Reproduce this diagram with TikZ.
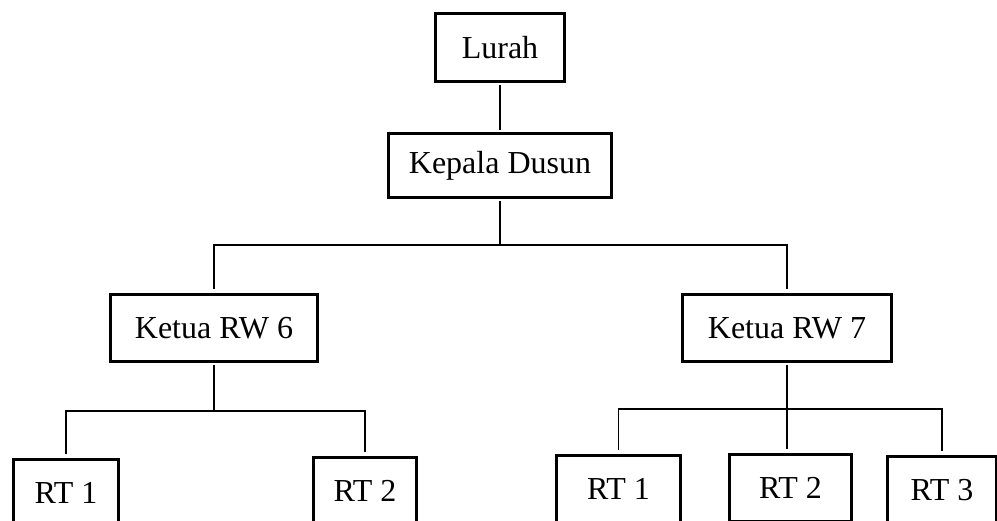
\documentclass[tikz,border=0pt]{standalone}
\usepackage{fontspec}
\setmainfont{Liberation Serif}
\begin{document}
\begin{tikzpicture}[x=1pt,y=-1pt,
  box/.style={draw,line width=3.6pt,inner sep=0pt,font=\fontsize{32}{38}\selectfont},
  conn/.style={line width=1.6pt}]
\useasboundingbox (0,0) rectangle (997,521);
\clip (0,0) rectangle (997,521);
\node[box,minimum width=129pt,minimum height=68pt] (lurah) at (500,47.5) {Lurah};
\node[box,minimum width=223pt,minimum height=64pt] (kepala) at (500,165.5) {Kepala Dusun};
\node[box,minimum width=207pt,minimum height=67pt] (rw6) at (214,328) {Ketua RW 6};
\node[box,minimum width=209pt,minimum height=67pt] (rw7) at (787,328) {Ketua RW 7};
\node[box,minimum width=105pt,minimum height=67pt] (rt1a) at (66,493) {RT 1};
\node[box,minimum width=103pt,minimum height=67pt] (rt2a) at (365,491) {RT 2};
\node[box,minimum width=124pt,minimum height=67pt] (rt1b) at (618.5,489) {RT 1};
\node[box,minimum width=122pt,minimum height=67pt] (rt2b) at (790.5,488) {RT 2};
\node[box,minimum width=109pt,minimum height=67pt] (rt3b) at (942,490) {RT 3};
\coordinate (bus1) at (0,245);
\coordinate (bus2) at (0,411);
\coordinate (bus3) at (0,409);
\draw[conn,shorten <=2pt,shorten >=2pt] (lurah.south) -- (kepala.north);
\draw[conn,shorten <=2pt,shorten >=4pt] (kepala.south) -- (kepala.south|-bus1) -| (rw6.north);
\draw[conn,shorten >=4pt] (kepala.south|-bus1) -| (rw7.north);
\draw[conn,shorten <=2pt,shorten >=4pt] (rw6.south) -- (rw6.south|-bus2) -| (rt1a.north);
\draw[conn,shorten >=4pt] (rw6.south|-bus2) -| (rt2a.north);
\draw[conn,shorten <=2pt,shorten >=4pt] (rw7.south) -- (rw7.south|-bus3) -| (rt1b.north);
\draw[conn,shorten <=2pt,shorten >=4pt] (rw7.south) -- (rw7.south|-rt2b.north);
\draw[conn,shorten >=4pt] (rw7.south|-bus3) -| (rt3b.north);
\end{tikzpicture}
\end{document}
